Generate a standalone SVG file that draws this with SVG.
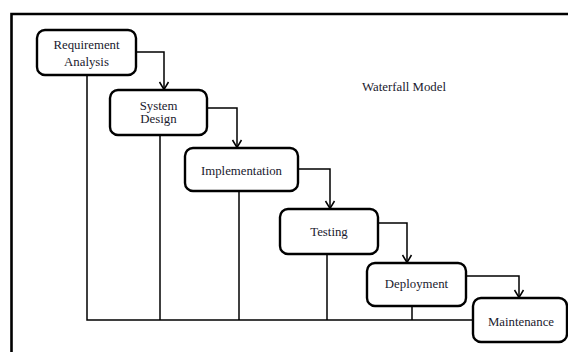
<svg xmlns="http://www.w3.org/2000/svg" width="568" height="352" viewBox="0 0 568 352">
  <style>
    .frame { fill: none; stroke: #000; stroke-width: 2.6; }
    .box { fill: #fff; stroke: #000; stroke-width: 2.4; }
    .link { fill: none; stroke: #000; stroke-width: 1.5; }
    .lbl { font-family: "Liberation Serif", "Times New Roman", serif; font-size: 12.8px; fill: #1a1a2e; text-anchor: middle; }
  </style>
  <defs>
    <marker id="vhead" markerWidth="12" markerHeight="12" refX="6" refY="9" orient="0" markerUnits="userSpaceOnUse" viewBox="0 0 12 12">
      <path d="M1.5,2 L6,9.5 L10.5,2" fill="none" stroke="#000" stroke-width="1.5"/>
    </marker>
  </defs>

  <rect width="568" height="352" fill="#fff"/>

  <!-- outer frame -->
  <path class="frame" d="M11.5,352 V14 H568"/>

  <!-- connectors -->
  <g id="connectors">
    <!-- stage to stage flow -->
    <path class="link" d="M136,52 H164 V89" marker-end="url(#vhead)"/>
    <path class="link" d="M207,108 H237 V147" marker-end="url(#vhead)"/>
    <path class="link" d="M298,169 H330 V208" marker-end="url(#vhead)"/>
    <path class="link" d="M378,223 H407 V262" marker-end="url(#vhead)"/>
    <path class="link" d="M466,276 H519 V297" marker-end="url(#vhead)"/>
    <!-- return lines to the base rail -->
    <path class="link" d="M87,75 V320 H473"/>
    <path class="link" d="M160,135 V320"/>
    <path class="link" d="M239,191 V320"/>
    <path class="link" d="M327,254 V320"/>
    <path class="link" d="M412,306 V320"/>
  </g>

  <g id="requirement-analysis">
    <rect class="box" x="37" y="30" width="99" height="45" rx="8"/>
    <text class="lbl" x="86.5" y="49">Requirement</text>
    <text class="lbl" x="86.5" y="66">Analysis</text>
  </g>

  <g id="system-design">
    <rect class="box" x="110" y="90" width="97" height="45" rx="8"/>
    <text class="lbl" x="158.5" y="110">System</text>
    <text class="lbl" x="158.5" y="123">Design</text>
  </g>

  <g id="implementation">
    <rect class="box" x="185" y="148" width="113" height="43" rx="8"/>
    <text class="lbl" x="241.5" y="175">Implementation</text>
  </g>

  <g id="testing">
    <rect class="box" x="280" y="209" width="98" height="45" rx="8"/>
    <text class="lbl" x="329" y="236">Testing</text>
  </g>

  <g id="deployment">
    <rect class="box" x="367" y="263" width="99" height="43" rx="8"/>
    <text class="lbl" x="416.5" y="288">Deployment</text>
  </g>

  <g id="maintenance">
    <rect class="box" x="473" y="298" width="94" height="44" rx="8"/>
    <text class="lbl" x="521" y="326">Maintenance</text>
  </g>

  <g id="title">
    <text class="lbl" x="404" y="91">Waterfall Model</text>
  </g>
</svg>
